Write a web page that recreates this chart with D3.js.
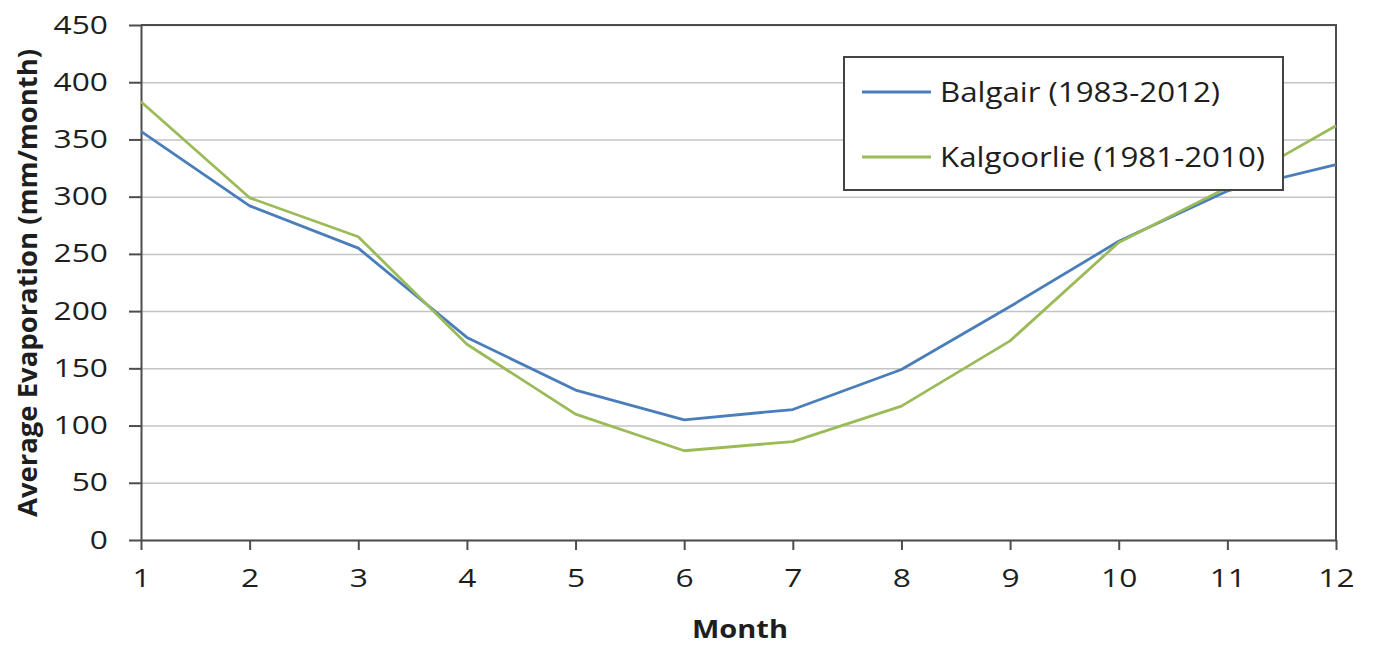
<!doctype html>
<html>
<head>
<script src="https://d3js.org/d3.v7.min.js"></script>
<style>
  body { margin: 0; background: #fff; }
  .tick text { font-family: "Open Sans", sans-serif; font-size: 25px; fill: #1e1e1e; }
  .grid line { stroke: #c4c4c4; stroke-width: 1.5; }
  .axis path, .axis line { stroke: #4d4d4d; stroke-width: 2; }
</style>
</head>
<body>
<script>
// data
var months = [1, 2, 3, 4, 5, 6, 7, 8, 9, 10, 11, 12];
var balgair = [357, 292, 255, 177, 131, 105, 114, 149, 204, 261, 305, 328];
var kalgoorlie = [383, 299, 265, 171, 110, 78, 86, 117, 174, 260, 308, 362];
var yTicks = [0, 50, 100, 150, 200, 250, 300, 350, 400, 450];
var seriesNames = ["Balgair (1983-2012)", "Kalgoorlie (1981-2010)"];
var seriesColors = ["#4a7ebb", "#9bbb59"];

var width = 1375, height = 646;
var plotLeft = 141, plotRight = 1336, plotTop = 25, plotBottom = 540;
var stretch = 1.27; // reference text is widened horizontally

var svg = d3.select("body").append("svg").attr("width", width).attr("height", height);

var x = d3.scaleLinear().domain([1, 12]).range([plotLeft, plotRight]);
var y = d3.scaleLinear().domain([0, 450]).range([plotBottom, plotTop]);

// horizontal gridlines
svg.append("g").attr("class", "grid").attr("transform", "translate(" + plotLeft + ",0)")
  .call(d3.axisLeft(y).tickValues(yTicks).tickSize(-(plotRight - plotLeft)).tickFormat(""))
  .call(g => g.select(".domain").remove());

// plot border top + right
svg.append("path")
  .attr("d", "M" + plotLeft + "," + plotTop + "H" + plotRight + "V" + plotBottom)
  .attr("fill", "none").attr("stroke", "#4d4d4d").attr("stroke-width", 2);

// y axis
var yAxis = svg.append("g").attr("class", "axis").attr("transform", "translate(" + plotLeft + ",0)")
  .call(d3.axisLeft(y).tickValues(yTicks).tickSize(12).tickSizeOuter(0));
yAxis.selectAll(".tick text").attr("x", -33 / stretch).attr("transform", "scale(" + stretch + ",1)");

// x axis
var xAxis = svg.append("g").attr("class", "axis").attr("transform", "translate(0," + plotBottom + ")")
  .call(d3.axisBottom(x).tickValues(months).tickFormat(d3.format("d")).tickSize(10).tickSizeOuter(0));
xAxis.selectAll(".tick text").attr("y", 29).attr("transform", "scale(" + stretch + ",1)");

// lines
var line = d3.line().x((d, i) => x(months[i])).y(d => y(d));
[balgair, kalgoorlie].forEach(function(vals, i) {
  svg.append("path").datum(vals)
    .attr("d", line)
    .attr("fill", "none")
    .attr("stroke", seriesColors[i])
    .attr("stroke-width", 2.8)
    .attr("stroke-linejoin", "round");
});

// legend
svg.append("rect").attr("x", 844).attr("y", 57).attr("width", 439).attr("height", 133)
  .attr("fill", "#fff").attr("stroke", "#444").attr("stroke-width", 2);
var legendRowY = [92, 157];
var legendTextLen = [280, 325];
seriesNames.forEach(function(name, i) {
  svg.append("line").attr("x1", 862).attr("x2", 931)
    .attr("y1", legendRowY[i]).attr("y2", legendRowY[i])
    .attr("stroke", seriesColors[i]).attr("stroke-width", 2.8);
  svg.append("text").attr("x", 940).attr("y", legendRowY[i] + 10)
    .attr("font-family", "Open Sans, sans-serif").attr("font-size", 28).attr("fill", "#1e1e1e")
    .attr("textLength", legendTextLen[i]).attr("lengthAdjust", "spacingAndGlyphs")
    .text(name);
});

// axis titles
svg.append("text").attr("x", 740).attr("y", 638)
  .attr("text-anchor", "middle")
  .attr("font-family", "Open Sans, sans-serif").attr("font-weight", "bold").attr("font-size", 25)
  .attr("fill", "#1e1e1e").attr("textLength", 96).attr("lengthAdjust", "spacingAndGlyphs")
  .text("Month");

svg.append("text")
  .attr("transform", "translate(37,283) rotate(-90)")
  .attr("text-anchor", "middle")
  .attr("font-family", "Open Sans, sans-serif").attr("font-weight", "bold").attr("font-size", 27)
  .attr("fill", "#1e1e1e").attr("textLength", 468).attr("lengthAdjust", "spacingAndGlyphs")
  .text("Average Evaporation (mm/month)");
</script>
</body>
</html>
